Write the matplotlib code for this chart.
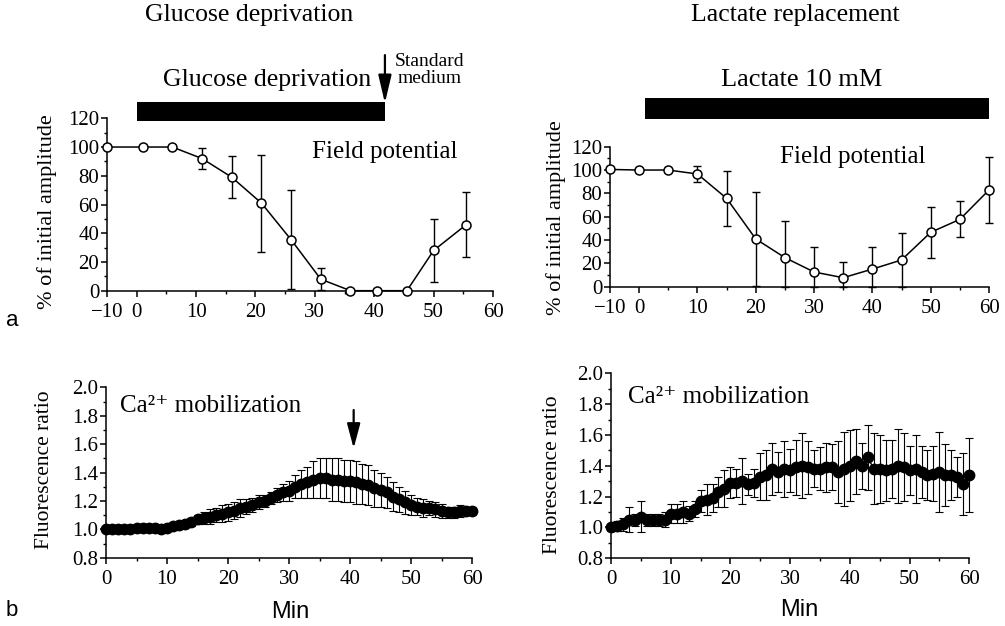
import numpy as np
import matplotlib
matplotlib.use('Agg')
import matplotlib.pyplot as plt

plt.rcParams['font.family'] = ['Liberation Serif', 'DejaVu Serif']

# ---------------- data ----------------
# (a) field potential, glucose deprivation
fp_glu_time = [-10, 1, 6, 11, 16, 21, 26, 31, 36, 40.5, 45.5, 50, 55.5]
fp_glu_amp = [100, 100, 100, 92, 79, 61, 35.5, 8, 0, 0, 0, 28, 46]
fp_glu_sem = [0, 0, 0, 7.5, 14.5, 33.8, 34.5, 7.5, 0, 0, 0, 22, 22.5]

# (a) field potential, lactate replacement
fp_lac_time = [-10, 0, 5, 10, 15, 20, 25, 30, 35, 40, 45, 50, 55, 60]
fp_lac_amp = [100.5, 100, 100, 96.6, 75.7, 40.9, 24.9, 12.6, 7.7, 15.1, 22.9, 46.6, 57.7, 82.9]
fp_lac_sem = [0, 0, 0, 6.8, 23.7, 40.5, 31.4, 21.7, 13.7, 19.2, 22.8, 22.0, 15.5, 28.2]

# (b) Ca2+ mobilization (fluorescence ratio), one sample per minute
ca_time = list(range(0, 61))
ca_glu_ratio = [1.00, 1.00, 1.00, 1.00, 1.00, 1.01, 1.01, 1.01, 1.01, 1.00,
                1.01, 1.02, 1.03, 1.04, 1.05, 1.07, 1.08, 1.09, 1.10, 1.11,
                1.12, 1.13, 1.15, 1.16, 1.17, 1.19, 1.20, 1.22, 1.24, 1.26,
                1.27, 1.30, 1.32, 1.33, 1.35, 1.36, 1.36, 1.35, 1.35, 1.34,
                1.34, 1.33, 1.32, 1.31, 1.29, 1.28, 1.26, 1.23, 1.21, 1.19,
                1.17, 1.16, 1.15, 1.15, 1.14, 1.13, 1.12, 1.12, 1.13, 1.13,
                1.13]
ca_glu_sem = [0.01, 0.01, 0.01, 0.01, 0.01, 0.01, 0.01, 0.01, 0.01, 0.01,
              0.01, 0.02, 0.02, 0.02, 0.03, 0.03, 0.04, 0.05, 0.05, 0.06,
              0.06, 0.06, 0.06, 0.05, 0.05, 0.05, 0.04, 0.04, 0.05, 0.06,
              0.07, 0.08, 0.10, 0.11, 0.13, 0.14, 0.14, 0.15, 0.15, 0.15,
              0.15, 0.15, 0.14, 0.14, 0.13, 0.12, 0.11, 0.10, 0.09, 0.08,
              0.07, 0.06, 0.06, 0.05, 0.05, 0.05, 0.04, 0.04, 0.04, 0.03,
              0.03]
ca_lac_ratio = [1.00, 1.01, 1.02, 1.05, 1.05, 1.07, 1.05, 1.05, 1.05, 1.05,
                1.09, 1.09, 1.10, 1.09, 1.12, 1.17, 1.18, 1.19, 1.23, 1.25,
                1.29, 1.29, 1.30, 1.28, 1.29, 1.33, 1.34, 1.38, 1.36, 1.38,
                1.37, 1.39, 1.40, 1.39, 1.38, 1.38, 1.39, 1.39, 1.36, 1.38,
                1.40, 1.43, 1.40, 1.455, 1.38, 1.38, 1.37, 1.38, 1.40, 1.39,
                1.37, 1.38, 1.36, 1.34, 1.35, 1.36, 1.34, 1.34, 1.33, 1.28,
                1.34]
ca_lac_sem = [0.02, 0.03, 0.04, 0.08, 0.04, 0.10, 0.04, 0.04, 0.04, 0.05,
              0.06, 0.06, 0.07, 0.05, 0.05, 0.07, 0.10, 0.09, 0.10, 0.12,
              0.10, 0.09, 0.15, 0.07, 0.09, 0.15, 0.16, 0.17, 0.13, 0.18,
              0.14, 0.18, 0.21, 0.17, 0.12, 0.14, 0.16, 0.15, 0.20, 0.24,
              0.23, 0.21, 0.15, 0.21, 0.23, 0.22, 0.20, 0.19, 0.24, 0.22,
              0.16, 0.22, 0.17, 0.16, 0.18, 0.26, 0.20, 0.16, 0.13, 0.20,
              0.24]

# treatment periods (min) and event markers
glu_period = (0, 41.8)
lac_period = (1, 60)
standard_medium_time = 41.8
ca_arrow_time = 40.6

fp_xticks = [-10, 0, 10, 20, 30, 40, 50, 60]
fp_yticks = [0, 20, 40, 60, 80, 100, 120]
ca_xticks = [0, 10, 20, 30, 40, 50, 60]
ca_yticks = [0.8, 1.0, 1.2, 1.4, 1.6, 1.8, 2.0]

CA_TEXT = 'Ca\u00b2\u207a mobilization'

# ---------------- figure ----------------
W, H = 1005, 626
fig = plt.figure(figsize=(W / 100, H / 100), dpi=100)


def ax_px(l, t, r, b):
    return fig.add_axes([l / W, 1 - b / H, (r - l) / W, (b - t) / H])


def fwd(x):
    x = np.asarray(x, dtype=float)
    return np.where(x < 0, x / 2.0, x)


def inv(x):
    x = np.asarray(x, dtype=float)
    return np.where(x < 0, x * 2.0, x)


TICK_FS = 15


def style(ax):
    for s in ['top', 'right']:
        ax.spines[s].set_visible(False)
    for s in ['left', 'bottom']:
        ax.spines[s].set_linewidth(1.1)
    ax.tick_params(which='major', direction='out', length=4, width=1.1,
                   labelsize=TICK_FS, pad=1.5)
    ax.tick_params(axis='x', which='major', pad=4.5)
    ax.tick_params(which='minor', direction='out', length=2.5, width=1.0)


def fp_panel(ax, t, amp, sem):
    ax.set_xscale('function', functions=(fwd, inv))
    amp = np.asarray(amp, float)
    sem = np.asarray(sem, float)
    lower = np.minimum(sem, amp)
    ax.errorbar(t, amp, yerr=[lower, sem], fmt='none', ecolor='black',
                elinewidth=1.0, capsize=3, capthick=1.0, clip_on=False, zorder=2)
    ax.plot(t, amp, '-', color='black', lw=1.1, marker='o', ms=6.5,
            mfc='white', mec='black', mew=1.1, clip_on=False, zorder=3)
    ax.set_xlim(-10, 60)
    ax.set_ylim(0, 120)
    ax.set_xticks(fp_xticks)
    ax.set_xticklabels(['\u221210'] + [str(v) for v in fp_xticks[1:]])
    ax.set_xticks([5, 15, 25, 35, 45, 55], minor=True)
    ax.set_yticks(fp_yticks)
    ax.set_yticks([10, 30, 50, 70, 90, 110], minor=True)
    style(ax)


def ca_panel(ax, t, r, sem):
    ax.errorbar(t, r, yerr=sem, fmt='none', ecolor='black', elinewidth=0.8,
                capsize=2.6, capthick=0.8, clip_on=False, zorder=2)
    ax.plot(t, r, '-', color='black', lw=1.0, marker='o', ms=7.5,
            mfc='black', mec='black', clip_on=False, zorder=3)
    ax.set_xlim(0, 60)
    ax.set_ylim(0.8, 2.0)
    ax.set_xticks(ca_xticks)
    ax.set_xticks([5, 15, 25, 35, 45, 55], minor=True)
    ax.set_yticks(ca_yticks)
    ax.set_yticklabels(['%.1f' % v for v in ca_yticks])
    ax.set_yticks([0.9, 1.1, 1.3, 1.5, 1.7, 1.9], minor=True)
    style(ax)


# ---- top-left: glucose deprivation, field potential
ax1 = ax_px(107, 118.3, 493, 290.7)
fp_panel(ax1, fp_glu_time, fp_glu_amp, fp_glu_sem)
ax1.set_ylabel('% of initial amplitude', fontsize=16, va='center')
ax1.yaxis.set_label_coords(-0.155, 0.46)
ax1.barh([124.7], [glu_period[1] - glu_period[0]], left=[glu_period[0]],
         height=13.2, color='black', clip_on=False)
ax1.text(21.9, 146.7, 'Glucose deprivation', fontsize=18.5, ha='center',
         va='center', clip_on=False)
ax1.annotate('', xy=(standard_medium_time, 130.6),
             xytext=(standard_medium_time, 164),
             arrowprops=dict(arrowstyle='-|>,head_length=1.7,head_width=0.4',
                             lw=1.6, color='black', shrinkA=0, shrinkB=0),
             annotation_clip=False)
ax1.text(49.4, 153.6, 'Standard\nmedium', fontsize=14, ha='center',
         va='center', linespacing=0.95, clip_on=False)
ax1.text(41.8, 96.7, 'Field potential', fontsize=18, ha='center', va='center')

# ---- top-right: lactate replacement, field potential
ax2 = ax_px(610, 146.7, 989, 286.7)
fp_panel(ax2, fp_lac_time, fp_lac_amp, fp_lac_sem)
ax2.set_ylabel('% of initial amplitude', fontsize=16, va='center')
ax2.yaxis.set_label_coords(-0.143, 0.49)
ax2.barh([152.7], [lac_period[1] - lac_period[0]], left=[lac_period[0]],
         height=18, color='black', clip_on=False)
ax2.text(27.9, 177.2, 'Lactate 10 mM', fontsize=19, ha='center',
         va='center', clip_on=False)
ax2.text(36.7, 111.2, 'Field potential', fontsize=18, ha='center', va='center')

# ---- bottom-left: Ca2+ glucose deprivation
ax3 = ax_px(106, 387.3, 472, 557.7)
ca_panel(ax3, ca_time, ca_glu_ratio, ca_glu_sem)
ax3.set_ylabel('Fluorescence ratio', fontsize=15.5, va='center')
ax3.yaxis.set_label_coords(-0.168, 0.515)
ax3.set_xlabel('Min', fontsize=17, family='Liberation Sans', va='center')
ax3.xaxis.set_label_coords(0.503, -0.319)
ax3.text(2.3, 1.868, CA_TEXT, fontsize=18, ha='left', va='center')
ax3.annotate('', xy=(ca_arrow_time, 1.57), xytext=(ca_arrow_time, 1.84),
             arrowprops=dict(arrowstyle='-|>,head_length=1.5,head_width=0.4',
                             lw=1.6, color='black', shrinkA=0, shrinkB=0))

# ---- bottom-right: Ca2+ lactate
ax4 = ax_px(611, 373.3, 969.3, 558.3)
ca_panel(ax4, ca_time, ca_lac_ratio, ca_lac_sem)
ax4.set_ylabel('Fluorescence ratio', fontsize=15.5, va='center')
ax4.yaxis.set_label_coords(-0.163, 0.45)
ax4.set_xlabel('Min', fontsize=17, family='Liberation Sans', va='center')
ax4.xaxis.set_label_coords(0.525, -0.279)
ax4.text(2.85, 1.848, CA_TEXT, fontsize=18, ha='left', va='center')

# ---- titles and panel letters
fig.text(249 / W, 1 - 15 / H, 'Glucose deprivation', fontsize=18.5,
         ha='center', va='center')
fig.text(795 / W, 1 - 15 / H, 'Lactate replacement', fontsize=18.5,
         ha='center', va='center')
fig.text(12 / W, 1 - 320 / H, 'a', fontsize=16, family='Liberation Sans',
         ha='center', va='center')
fig.text(12 / W, 1 - 610 / H, 'b', fontsize=16, family='Liberation Sans',
         ha='center', va='center')

fig.savefig('out.png', dpi=100, facecolor='white')
